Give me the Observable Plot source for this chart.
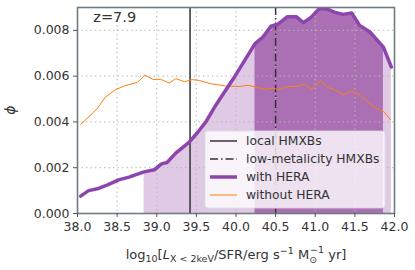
<!DOCTYPE html>
<html><head><meta charset="utf-8">
<script src="https://cdn.jsdelivr.net/npm/d3@7"></script>
<script src="https://cdn.jsdelivr.net/npm/@observablehq/plot@0.6"></script>
<style>body{margin:0;background:#fff} svg{font-family:"DejaVu Sans",sans-serif}</style>
</head><body><div id="chart"></div>
<script>
// with HERA (purple)
const heraX = [38.04,38.14,38.25,38.38,38.52,38.65,38.84,38.97,39.06,39.13,39.24,39.41,39.52,39.62,39.73,39.98,40.24,40.34,40.44,40.53,40.65,40.76,40.85,40.95,41.05,41.14,41.24,41.35,41.46,41.56,41.69,41.86,41.96];
const heraY = [0.00076,0.00100,0.00108,0.00125,0.00147,0.00159,0.00182,0.00191,0.00217,0.00223,0.00264,0.00312,0.00356,0.00400,0.00465,0.00596,0.00742,0.00771,0.00818,0.00827,0.00860,0.00860,0.00834,0.00858,0.00895,0.00895,0.00880,0.00870,0.00876,0.00822,0.00793,0.00727,0.00640];
// without HERA (orange)
const noHeraX = [38.04,38.25,38.35,38.48,38.59,38.76,38.85,38.95,39.05,39.16,39.24,39.35,39.45,39.54,39.68,39.87,40.04,40.15,40.36,40.46,40.55,40.65,40.76,40.86,40.96,41.06,41.16,41.24,41.35,41.46,41.54,41.65,41.77,41.86,41.95];
const noHeraY = [0.00389,0.00458,0.00508,0.00541,0.00557,0.00574,0.00605,0.00586,0.00586,0.00570,0.00589,0.00576,0.00585,0.00581,0.00567,0.00557,0.00555,0.00560,0.00543,0.00548,0.00541,0.00555,0.00555,0.00564,0.00543,0.00581,0.00550,0.00543,0.00519,0.00535,0.00523,0.00492,0.00458,0.00447,0.00410];
// credible intervals
const lightRange = [38.84, 41.96];
const darkRange = [40.24, 41.86];
// reference lines
const localHMXB = 39.42;
const lowZHMXB = 40.5;
const xTicks = [38.0,38.5,39.0,39.5,40.0,40.5,41.0,41.5,42.0];
const yTicks = [0.000,0.002,0.004,0.006,0.008];
const annotation = [{x: 38.2, y: 0.00857, label: "z=7.9"}];
const legendLabels = ["local HMXBs","low-metalicity HMXBs","with HERA","without HERA"];

const hera = heraX.map((x,i)=>({x, y: heraY[i]}));
const noHera = noHeraX.map((x,i)=>({x, y: noHeraY[i]}));
const inRange = (r) => hera.filter(d => d.x >= r[0] - 1e-9 && d.x <= r[1] + 1e-9);

const purple = "#8e44ad";
const orange = "#ff7f0e";

const plot = Plot.plot({
  width: 415, height: 270,
  marginLeft: 77, marginRight: 21, marginTop: 7, marginBottom: 57,
  style: {fontFamily: "DejaVu Sans", fontSize: "12.5px", color: "#333"},
  x: {domain: [38, 42], ticks: xTicks, tickFormat: d3.format(".1f")},
  y: {domain: [0, 0.009], ticks: yTicks, tickFormat: d3.format(".3f")},
  marks: [
    Plot.areaY(inRange(lightRange), {x: "x", y: "y", fill: "#e0c9e4"}),
    Plot.areaY(inRange(darkRange), {x: "x", y: "y", fill: "#ab6fb4"}),
    Plot.gridX(xTicks.slice(1, -1), {stroke: "#b8b8b8", strokeOpacity: 0.9, strokeWidth: 1.3, strokeDasharray: "1.3,3.2"}),
    Plot.gridY(yTicks.slice(1), {stroke: "#b8b8b8", strokeOpacity: 0.9, strokeWidth: 1.3, strokeDasharray: "1.3,3.2"}),
    Plot.ruleX([localHMXB], {stroke: "#333", strokeWidth: 1.5}),
    Plot.ruleX([lowZHMXB], {stroke: "#333", strokeWidth: 1.5, strokeDasharray: "8,3,1.5,3"}),
    Plot.lineY(noHera, {x: "x", y: "y", stroke: orange, strokeWidth: 1}),
    Plot.lineY(hera, {x: "x", y: "y", stroke: purple, strokeWidth: 3.5, clip: true}),
    Plot.text(annotation, {x: "x", y: "y", text: "label", fontSize: 14.5, fill: "#333", textAnchor: "start"}),
    Plot.frame({stroke: "#6f7b85", strokeWidth: 1.6}),
    Plot.axisX({ticks: xTicks, tickSize: 4, tickPadding: 5, tickFormat: d3.format(".1f"), stroke: "#555", fill: "#333", fontSize: 12.5, label: null}),
    Plot.axisY({ticks: yTicks, tickSize: 4, tickPadding: 4, tickFormat: d3.format(".3f"), stroke: "#555", fill: "#333", fontSize: 12.5, label: null})
  ]
});
document.getElementById("chart").appendChild(plot);

const svg = d3.select(plot);
// legend
const lg = svg.append("g").attr("transform", "translate(205,131)").attr("text-anchor", "start");
lg.append("rect").attr("width", 180).attr("height", 77).attr("rx", 3)
  .attr("fill", "#fff").attr("fill-opacity", 0.8).attr("stroke", "#ddd").attr("stroke-opacity", 0.8);
const styles = [
  {stroke: "#333", w: 1.5, dash: null},
  {stroke: "#333", w: 1.5, dash: "8,3,1.5,3"},
  {stroke: purple, w: 3.5, dash: null},
  {stroke: orange, w: 1, dash: null}
];
legendLabels.forEach((t, i) => {
  const y = 10 + i * 18;
  lg.append("line").attr("x1", 5).attr("x2", 32).attr("y1", y).attr("y2", y)
    .attr("stroke", styles[i].stroke).attr("stroke-width", styles[i].w)
    .attr("stroke-dasharray", styles[i].dash);
  lg.append("text").attr("x", 41).attr("y", y).attr("dy", "0.35em").attr("text-anchor", "start")
    .attr("font-size", 12.3).attr("fill", "#333").text(t);
});
// y label
svg.append("text").attr("transform", "translate(15,110) rotate(-90)")
  .attr("text-anchor", "middle").attr("font-size", 14).attr("font-style", "italic").attr("fill", "#333").text("ϕ");
// x label
const xl = svg.append("text").attr("x", 236).attr("y", 259).attr("text-anchor", "middle")
  .attr("font-size", 13).attr("fill", "#333");
xl.append("tspan").text("log");
xl.append("tspan").attr("dy", 3).attr("font-size", 9.5).text("10");
xl.append("tspan").attr("dy", -3).text("[");
xl.append("tspan").attr("font-style", "italic").text("L");
xl.append("tspan").attr("dy", 3).attr("font-size", 9.5).text("X < 2keV");
xl.append("tspan").attr("dy", -3).text("/SFR/erg s");
xl.append("tspan").attr("dy", -5).attr("font-size", 9.5).text("−1");
xl.append("tspan").attr("dy", 5).text(" M");
xl.append("tspan").attr("dy", 4).attr("font-size", 9.5).text("⊙");
xl.append("tspan").attr("dy", -10).attr("dx", -7).attr("font-size", 9.5).text("−1");
xl.append("tspan").attr("dy", 6).text(" yr]");
</script></body></html>
